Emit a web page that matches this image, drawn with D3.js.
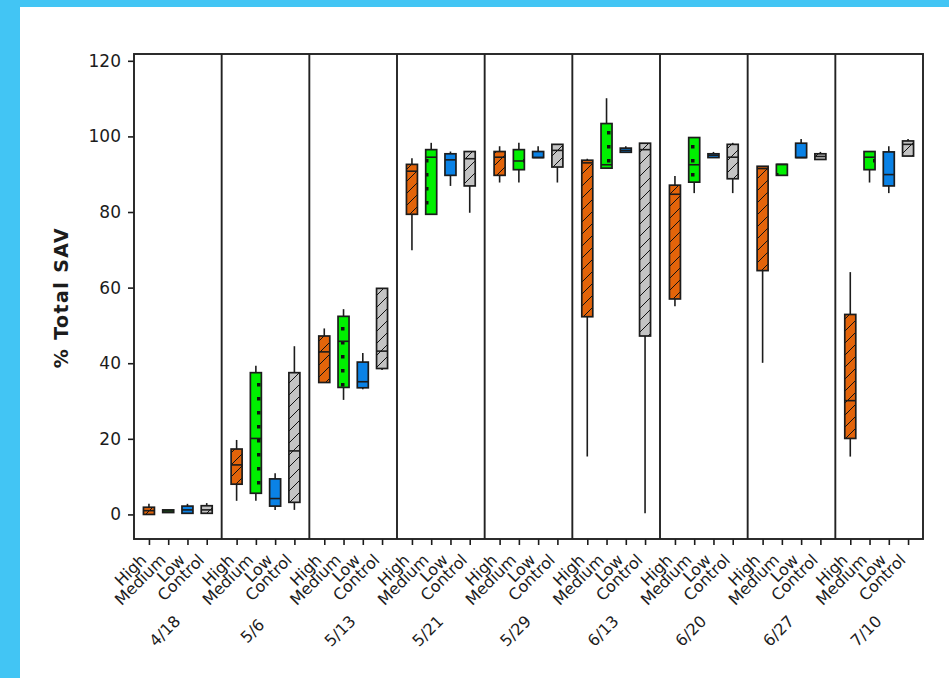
<!DOCTYPE html>
<html>
<head>
<meta charset="utf-8">
<script src="https://cdn.jsdelivr.net/npm/d3@7"></script>
<style>
  body { margin: 0; background: #fff; }
  svg { display: block; }
</style>
</head>
<body>
<script>
// Sampling dates (one panel each) and treatments (one box each per panel)
const dates = ["4/18", "5/6", "5/13", "5/21", "5/29", "6/13", "6/20", "6/27", "7/10"];
const treatments = ["High", "Medium", "Low", "Control"];

// Box statistics per date: [lower whisker, Q1, median, Q3, upper whisker]
const highStats = [
  [0.0, 0.0, 1.0, 1.9, 2.8],
  [3.6, 8.0, 13.1, 17.3, 19.7],
  [34.9, 34.9, 43.0, 47.2, 49.2],
  [69.9, 79.4, 90.8, 92.6, 94.2],
  [87.8, 89.7, 94.5, 96.0, 97.4],
  [15.3, 52.3, 93.0, 93.7, 94.1],
  [55.1, 57.0, 84.7, 87.1, 89.5],
  [40.1, 64.5, 91.5, 92.1, 92.1],
  [15.3, 20.1, 30.1, 52.9, 64.1]
];
const mediumStats = [
  [0.5, 0.5, 0.9, 1.2, 1.2],
  [3.6, 5.6, 20.1, 37.5, 39.3],
  [30.3, 33.6, 45.8, 52.4, 54.3],
  [79.4, 79.4, 94.5, 96.5, 98.3],
  [87.8, 91.2, 93.5, 96.5, 98.3],
  [91.6, 91.6, 92.5, 103.4, 110.1],
  [85.0, 87.9, 92.5, 99.7, 99.7],
  [89.7, 89.7, 92.6, 92.6, 92.6],
  [87.8, 91.2, 94.5, 96.0, 96.0]
];
const lowStats = [
  [0.3, 0.3, 1.2, 2.2, 2.8],
  [1.2, 2.2, 4.2, 9.4, 10.9],
  [33.1, 33.5, 35.1, 40.3, 42.7],
  [86.9, 89.7, 93.8, 95.4, 96.0],
  [94.4, 94.4, 94.4, 96.0, 97.4],
  [95.8, 95.8, 96.3, 96.9, 97.4],
  [94.4, 94.4, 95.0, 95.4, 95.9],
  [94.4, 94.4, 94.4, 98.2, 99.3],
  [85.0, 86.9, 89.9, 95.9, 97.4]
];
const controlStats = [
  [0.3, 0.3, 1.2, 2.3, 3.0],
  [1.2, 3.2, 16.8, 37.5, 44.5],
  [38.2, 38.6, 43.2, 59.8, 59.8],
  [79.8, 86.9, 94.1, 96.0, 96.0],
  [87.8, 91.9, 96.3, 97.9, 97.9],
  [0.3, 47.2, 96.5, 98.2, 98.2],
  [85.0, 88.8, 94.5, 97.9, 98.3],
  [93.9, 93.9, 94.7, 95.4, 95.9],
  [94.8, 94.8, 97.9, 98.8, 99.3]
];
const yTicks = [0, 20, 40, 60, 80, 100, 120];
const yLabel = "% Total SAV";

// Fill style per treatment
const fills = {
  High: { color: "#e3640a", pattern: "hatch" },
  Medium: { color: "#00f000", pattern: "dots" },
  Low: { color: "#0a82e6", pattern: null },
  Control: { color: "#c4c4c4", pattern: "hatch" }
};
const statsBy = { High: highStats, Medium: mediumStats, Low: lowStats, Control: controlStats };

const W = 949, H = 678;
const plot = { left: 134, right: 923, top: 54, bottom: 539 };
const ink = "#1c1c1c";
const font = "'DejaVu Sans', Verdana, sans-serif";

const svg = d3.select("body").append("svg")
  .attr("width", W).attr("height", H)
  .attr("viewBox", `0 0 ${W} ${H}`);

svg.append("rect").attr("width", W).attr("height", H).attr("fill", "#fff");
// page frame strips
svg.append("rect").attr("x", 0).attr("y", 0).attr("width", 20).attr("height", H).attr("fill", "#42c5f4");
svg.append("rect").attr("x", 0).attr("y", 0).attr("width", W).attr("height", 7).attr("fill", "#42c5f4");

// fill patterns
const defs = svg.append("defs");
treatments.forEach(t => {
  const f = fills[t];
  if (f.pattern === "hatch") {
    const p = defs.append("pattern").attr("id", "fill-" + t)
      .attr("patternUnits", "userSpaceOnUse").attr("width", 12).attr("height", 12);
    p.append("rect").attr("width", 12).attr("height", 12).attr("fill", f.color);
    p.append("path").attr("d", "M-3,3 L3,-3 M0,12 L12,0 M9,15 L15,9")
      .attr("stroke", "#111").attr("stroke-width", 1);
  } else if (f.pattern === "dots") {
    const p = defs.append("pattern").attr("id", "fill-" + t)
      .attr("patternUnits", "userSpaceOnUse").attr("width", 14).attr("height", 14);
    p.append("rect").attr("width", 14).attr("height", 14).attr("fill", f.color);
    p.append("rect").attr("x", 5).attr("y", 5).attr("width", 3.5).attr("height", 3.5).attr("fill", "#111");
  }
});
const fillOf = t => fills[t].pattern ? `url(#fill-${t})` : fills[t].color;

// scales
const x = d3.scaleBand().domain(dates).range([plot.left, plot.right]).padding(0);
const xi = d3.scalePoint().domain(treatments).range([0, x.bandwidth()]).padding(0.776);
const y = d3.scaleLinear().domain([-6.5, 121.8]).range([plot.bottom, plot.top]);

// y axis
const yAxis = svg.append("g").attr("transform", `translate(${plot.left},0)`)
  .call(d3.axisLeft(y).tickValues(yTicks).tickSize(6).tickPadding(7));
yAxis.select(".domain").remove();
yAxis.selectAll(".tick line").attr("stroke", ink).attr("stroke-width", 1.6);
yAxis.selectAll(".tick text").attr("font-family", font).attr("font-size", 17).attr("fill", ink);

svg.append("text")
  .attr("transform", `translate(68,${(plot.top + plot.bottom) / 2 + 1}) rotate(-90)`)
  .attr("text-anchor", "middle")
  .attr("font-family", font).attr("font-weight", "bold").attr("font-size", 19)
  .attr("letter-spacing", 1.4)
  .attr("fill", ink)
  .text(yLabel);

// per-date category axes
dates.forEach(d => {
  const g = svg.append("g").attr("transform", `translate(${x(d)},${plot.bottom})`)
    .call(d3.axisBottom(xi).tickSize(6));
  g.select(".domain").remove();
  g.selectAll(".tick line").attr("stroke", ink).attr("stroke-width", 1.6);
  g.selectAll(".tick text")
    .attr("y", 0).attr("dy", 0)
    .attr("transform", "translate(-2,22) rotate(-45)")
    .attr("text-anchor", "end")
    .attr("font-family", font).attr("font-size", 16).attr("fill", ink);
});

// date labels
svg.append("g").selectAll("text").data(dates).join("text")
  .attr("transform", d => `translate(${x(d) + x.bandwidth() / 2 - 13},631) rotate(-45)`)
  .attr("text-anchor", "middle")
  .attr("dominant-baseline", "central")
  .attr("font-family", font).attr("font-size", 16).attr("fill", ink)
  .text(d => d);

// plot frame and panel dividers
const frame = svg.append("g").attr("stroke", "#222").attr("stroke-width", 1.9).attr("fill", "none");
frame.append("rect")
  .attr("x", plot.left).attr("y", plot.top)
  .attr("width", plot.right - plot.left).attr("height", plot.bottom - plot.top);
frame.selectAll("line").data(dates.slice(1)).join("line")
  .attr("x1", d => x(d)).attr("x2", d => x(d))
  .attr("y1", plot.top).attr("y2", plot.bottom);

// boxes
const boxW = 11;
const rows = [];
treatments.forEach(t => dates.forEach((d, i) => {
  const [lo, q1, med, q3, hi] = statsBy[t][i];
  rows.push({ t, d, lo, q1, med, q3, hi, cx: x(d) + xi(t) });
}));

const boxes = svg.append("g").selectAll("g").data(rows).join("g");
boxes.append("line")
  .attr("x1", r => r.cx).attr("x2", r => r.cx)
  .attr("y1", r => y(r.hi)).attr("y2", r => y(r.lo))
  .attr("stroke", ink).attr("stroke-width", 1.6);
boxes.append("rect")
  .attr("x", r => r.cx - boxW / 2).attr("width", boxW)
  .attr("y", r => y(r.q3)).attr("height", r => Math.max(0.5, y(r.q1) - y(r.q3)))
  .attr("fill", r => fillOf(r.t))
  .attr("stroke", ink).attr("stroke-width", 1.7);
boxes.append("line")
  .attr("x1", r => r.cx - boxW / 2).attr("x2", r => r.cx + boxW / 2)
  .attr("y1", r => y(r.med)).attr("y2", r => y(r.med))
  .attr("stroke", ink).attr("stroke-width", 1.6);
</script>
</body>
</html>
